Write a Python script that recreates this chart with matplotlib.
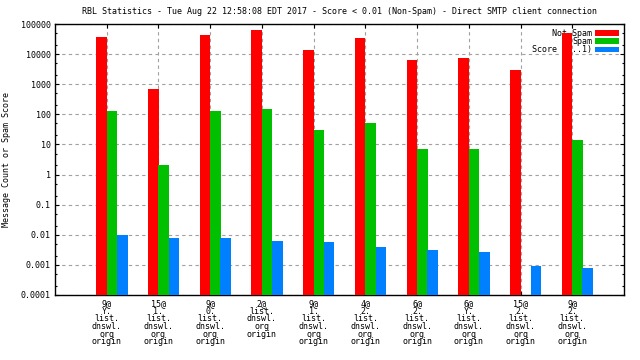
import numpy as np
import matplotlib
matplotlib.use("Agg")
import matplotlib.pyplot as plt
from matplotlib.ticker import FixedLocator, LogLocator, NullFormatter

title = "RBL Statistics - Tue Aug 22 12:58:08 EDT 2017 - Score < 0.01 (Non-Spam) - Direct SMTP client connection"
categories = [
    "9@\nY.\nlist.\ndnswl.\norg\norigin",
    "15@\n1.\nlist.\ndnswl.\norg\norigin",
    "9@\n0.\nlist.\ndnswl.\norg\norigin",
    "2@\nlist.\ndnswl.\norg\norigin",
    "9@\n1.\nlist.\ndnswl.\norg\norigin",
    "4@\n2.\nlist.\ndnswl.\norg\norigin",
    "6@\n2.\nlist.\ndnswl.\norg\norigin",
    "6@\nY.\nlist.\ndnswl.\norg\norigin",
    "15@\n2.\nlist.\ndnswl.\norg\norigin",
    "9@\n2.\nlist.\ndnswl.\norg\norigin",
]
not_spam = [37000, 690, 43000, 63000, 13700, 34300, 6400, 7400, 3000, 50000]
spam = [128, 2.07, 128, 150, 30, 51, 7.0, 7.0, 0, 14]
score = [0.0098, 0.0078, 0.0078, 0.0062, 0.0058, 0.0039, 0.0031, 0.0027, 0.00092, 0.00079]
series_names = ["Not Spam", "Spam", "Score (0..1)"]
colors = ["#ff0000", "#00c000", "#0080ff"]
ytick_vals = [1e-4, 1e-3, 1e-2, 1e-1, 1, 10, 100, 1000, 10000, 100000]
ytick_labels = ["0.0001", "0.001", "0.01", "0.1", "1", "10", "100", "1000", "10000", "100000"]

FONT = "DejaVu Sans Mono"
FS = 6.0

fig = plt.figure(figsize=(6.4, 3.6), dpi=100)
ax = fig.add_axes([55/640, 1-295/360, (624-55)/640, (295-24)/360])

x = np.arange(1, len(categories) + 1)
w = 0.205
offsets = [-0.1, 0.1, 0.3]
for vals, off, col, name in zip([not_spam, spam, score], offsets, colors, series_names):
    v = np.array(vals, dtype=float)
    v[v <= 0] = np.nan
    ax.bar(x + off, v, width=w, color=col, label=name, zorder=3, linewidth=0)

ax.set_yscale("log")
ax.set_ylim(1e-4, 1e5)
ax.set_xlim(0, len(categories) + 1)
ax.yaxis.set_major_locator(FixedLocator(ytick_vals))
ax.set_yticklabels(ytick_labels, fontfamily=FONT, fontsize=FS)
ax.yaxis.set_minor_locator(LogLocator(base=10, subs=(2.0, 5.0), numticks=20))
ax.yaxis.set_minor_formatter(NullFormatter())
ax.set_xticks(x)
ax.set_xticklabels(categories, fontfamily=FONT, fontsize=FS, linespacing=0.8, va="top")

ax.tick_params(axis="both", which="major", direction="in", length=3, width=0.8,
               top=True, right=True, pad=3)
ax.tick_params(axis="y", which="minor", direction="in", length=1.6, width=0.8, right=True)
ax.tick_params(axis="x", which="minor", bottom=False, top=False)
for s in ax.spines.values():
    s.set_linewidth(1.0)

ax.grid(True, which="major", axis="both", color="#a0a0a0", linestyle=(0, (3, 3)), linewidth=0.8, zorder=0)
ax.set_axisbelow(True)

ax.set_ylabel("Message Count or Spam Score", fontfamily=FONT, fontsize=FS, labelpad=7)
ax.set_title(title, fontfamily=FONT, fontsize=FS, pad=7)

leg = ax.legend(loc="upper right", frameon=False, markerfirst=False,
                prop={"family": FONT, "size": FS}, handlelength=2.9, handleheight=0.65,
                labelspacing=-0.1, handletextpad=0.35, borderaxespad=0.3, borderpad=0.3)
leg.set_zorder(1)

fig.savefig("out.png", dpi=100)
